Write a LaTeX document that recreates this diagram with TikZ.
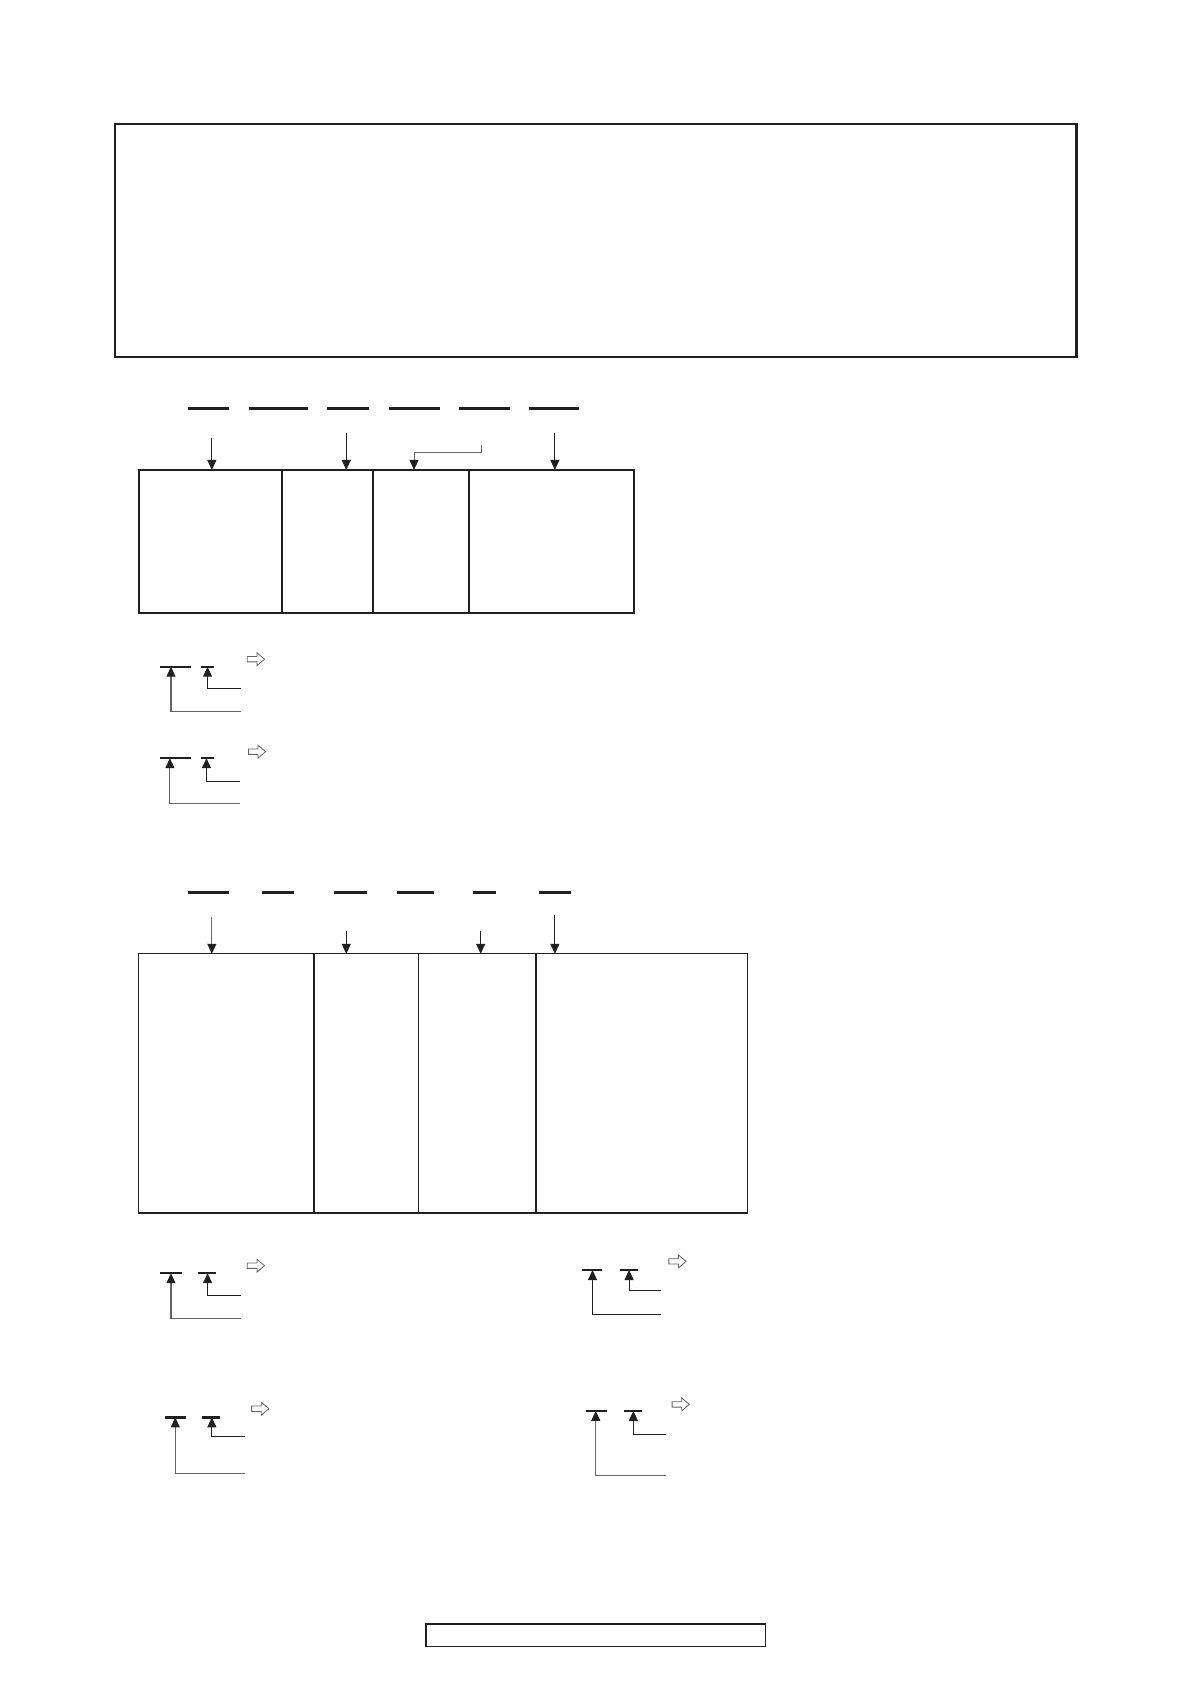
\documentclass[tikz,border=0pt]{standalone}
\usetikzlibrary{arrows.meta}
\definecolor{ink}{RGB}{35,31,32}
\definecolor{greyink}{RGB}{100,100,100}
\tikzset{
  bigbox/.style={draw=ink,line width=2.2pt},
  tblA/.style={draw=ink,line width=2pt},
  tblB/.style={draw=ink,line width=1.2pt},
  bar/.style={draw=ink,line width=2.4pt},
  arr/.style={draw=ink,line width=1.1pt,-{Triangle[length=10pt,width=9pt]}},
  garr/.style={draw=greyink,line width=1.1pt,-{Triangle[length=10pt,width=9pt,color=ink,fill=ink]}},
  hollowarrow/.style={draw=greyink,line width=0.8pt,fill=white},
}
\newcommand\myhollow[2]{\draw[hollowarrow] (#1,#2-2.5) -- (#1+9,#2-2.5) -- (#1+9,#2-6) -- (#1+16,#2) -- (#1+9,#2+6) -- (#1+9,#2+2.5) -- (#1,#2+2.5) -- cycle;}
\begin{document}
\begin{tikzpicture}[x=1.075pt,y=-1.075pt]
\useasboundingbox (0,0) rectangle (1107,1566);
% top box
\coordinate (topNW) at (107,115); \coordinate (topSE) at (1001,332);
\draw[bigbox] (topNW) rectangle (topSE);
% bottom box
\coordinate (footNW) at (396,1510); \coordinate (footSE) at (712,1531);
\draw[draw=ink,line width=1.5pt] (footNW) rectangle (footSE);

% ---------- section 1 ----------
\foreach \a/\b in {175/213,232/286,304/343,362/409,427/474,492/538}
  \draw[bar] (\a,380) -- (\b,380);
\draw[tblA] (129,437) rectangle (590,570);
\draw[tblA] (262,437) -- (262,570);
\draw[tblA] (347,437) -- (347,570);
\draw[tblA] (436,437) -- (436,570);
\coordinate (s1a) at (197,407); \coordinate (t1a) at (197,437);
\coordinate (s1b) at (322,403); \coordinate (t1b) at (322,437);
\coordinate (s1d) at (516,403); \coordinate (t1d) at (516,437);
\coordinate (s1c) at (448,414); \coordinate (t1c) at (385,437);
\draw[arr] (s1a) -- (t1a);
\draw[arr] (s1b) -- (t1b);
\draw[arr] (s1d) -- (t1d);
\draw[garr,line width=0.9pt] (s1c) -- (448,421) -- (385,421) -- (t1c);

% legend 1a
\draw[bar] (149,620) -- (178,620);
\draw[bar] (187,620) -- (199,620);
\draw[garr] (224,662) -- (159,662) -- (159,620);
\draw[arr] (224,640) -- (193,640) -- (193,620);
\myhollow{230}{613}
% legend 1b
\draw[bar] (149,705) -- (178,705);
\draw[bar] (187,705) -- (199,705);
\draw[garr] (223,747) -- (158,747) -- (158,705);
\draw[arr] (223,727) -- (192,727) -- (192,705);
\myhollow{231}{699}

% ---------- section 2 ----------
\foreach \a/\b in {175/213,244/273,311/341,369/404,440/461,501/531}
  \draw[bar] (\a,830) -- (\b,830);
\draw[tblB] (129,887) rectangle (695,1128);
\draw[tblB] (292,887) -- (292,1128);
\draw[tblB] (389,887) -- (389,1128);
\draw[tblA] (498,887) -- (498,1128);
\coordinate (s2a) at (197,853); \coordinate (t2a) at (197,887);
\coordinate (s2b) at (322,866); \coordinate (t2b) at (322,887);
\coordinate (s2c) at (447,866); \coordinate (t2c) at (447,887);
\coordinate (s2d) at (516,851); \coordinate (t2d) at (516,887);
\draw[garr] (s2a) -- (t2a);
\draw[arr] (s2b) -- (t2b);
\draw[arr] (s2c) -- (t2c);
\draw[arr] (s2d) -- (t2d);

% legend 2a
\draw[bar] (149,1184) -- (169,1184);
\draw[bar] (184,1184) -- (201,1184);
\draw[garr] (224,1226) -- (159,1226) -- (159,1184);
\draw[arr] (224,1205) -- (193,1205) -- (193,1184);
\myhollow{230}{1177}
% legend 2b
\draw[bar] (541,1181) -- (560,1181);
\draw[bar] (577,1181) -- (593,1181);
\draw[arr] (615,1222) -- (551,1222) -- (551,1181);
\draw[arr] (615,1200) -- (585,1200) -- (585,1181);
\myhollow{622}{1173}
% legend 2c
\draw[bar] (153,1318) -- (173,1318);
\draw[bar] (188,1318) -- (205,1318);
\draw[garr] (228,1370) -- (163,1370) -- (163,1318);
\draw[arr] (228,1336) -- (197,1336) -- (197,1318);
\myhollow{234}{1310}
% legend 2d
\draw[bar] (545,1312) -- (564,1312);
\draw[bar] (580,1312) -- (597,1312);
\draw[garr] (619,1372) -- (554,1372) -- (554,1312);
\draw[arr] (619,1334) -- (589,1334) -- (589,1312);
\myhollow{625}{1306}
\end{tikzpicture}
\end{document}
